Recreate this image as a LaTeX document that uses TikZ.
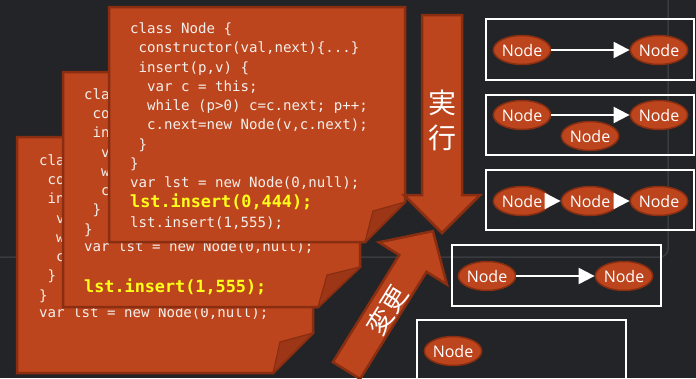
\documentclass[tikz,border=0pt]{standalone}
\usepackage{fontspec}
\setmonofont{DejaVu Sans Mono}
\newfontfamily\labelfont{Open Sans}
\newfontfamily\cjkfont{Noto Sans CJK JP}
\usetikzlibrary{arrows.meta,shapes.geometric}

\definecolor{board}{HTML}{232427}
\definecolor{frameline}{HTML}{3A3B3E}
\definecolor{cardfill}{HTML}{BD451D}
\definecolor{cardedge}{HTML}{8A2E12}
\definecolor{flapfill}{HTML}{9C3616}
\definecolor{codetext}{HTML}{F4F0EC}
\definecolor{hlyellow}{HTML}{FFFF1A}

\begin{document}
\begin{tikzpicture}[x=1pt,y=-1pt,
  card/.style={fill=cardfill, draw=cardedge, line width=2.5pt, line join=miter},
  flap/.style={fill=flapfill, draw=cardedge, line width=1.2pt, line join=miter},
  code/.style={anchor=base west, inner sep=0pt, text=codetext,
    font=\ttfamily\fontsize{14.1}{17}\selectfont},
  hl/.style={code, text=hlyellow, font=\ttfamily\bfseries\fontsize{16.8}{20}\selectfont},
  listbox/.style={draw=white, line width=2pt},
  lnode/.style={ellipse, fill=cardfill, draw=cardedge, line width=1.5pt,
    minimum width=56pt, minimum height=29pt, inner sep=0pt, text=white,
    font=\labelfont\fontsize{16}{16}\selectfont},
  link/.style={draw=white, line width=2pt, -{Triangle[length=16pt,width=16pt]}},
  bigarrow/.style={fill=cardfill, draw=cardedge, line width=2.5pt, line join=miter},
  arrowtext/.style={text=white, inner sep=0pt, align=center}]

% board
\useasboundingbox (0,0) rectangle (696,378);
\fill[board] (0,0) rectangle (696,378);
\draw[frameline, line width=1.5pt, rounded corners=8pt] (-10,257) -- (668,257) -- (668,-10);

% linked-list states
\draw[listbox] (486,19) rectangle (694,80);
\draw[listbox] (486,95) rectangle (694,155);
\draw[listbox] (486,170) rectangle (694,230);
\draw[listbox] (452,245) rectangle (661,306);
\draw[listbox] (417,320) rectangle (626,390);

\node[lnode] (n11) at (522,50) {Node};
\node[lnode] (n12) at (659,50) {Node};
\draw[link] (n11) -- (n12);

\node[lnode] (n21) at (522,115) {Node};
\node[lnode] (n22) at (659,115) {Node};
\node[lnode] (n23) at (590,136) {Node};
\draw[link] (n21) -- (n22);

\node[lnode] (n31) at (522,201) {Node};
\node[lnode] (n32) at (590,201) {Node};
\node[lnode] (n33) at (659,201) {Node};
\draw[link] (n31) -- (n32);
\draw[link] (n32) -- (n33);

\node[lnode] (n41) at (487,276) {Node};
\node[lnode] (n42) at (624,276) {Node};
\draw[link] (n41) -- (n42);

\node[lnode] (n51) at (453,351) {Node};

% back code card (mostly covered by the cards in front)
\draw[card] (17,137) -- (313,137) -- (313,333) -- (273,373) -- (17,373) -- cycle;
\draw[flap] (273,373) -- (280,342) -- (313,333) -- cycle;
\node[code] (b1) at (39,165)   {cla};
\node[code] (b2) at (47.5,184) {co};
\node[code] (b3) at (47.5,203) {in};
\node[code] (b4) at (56,223)   {v};
\node[code] (b5) at (56,242)   {w};
\node[code] (b6) at (56,261)   {c};
\node[code] (b7) at (47.5,280) {\}};
\node[code] (b8) at (39,300)   {\}};
\node[code] (b9) at (39,317)   {var lst = new Node(0,null);};

% middle code card
\draw[card] (63,72) -- (360,72) -- (360,267) -- (318,307) -- (63,307) -- cycle;
\draw[flap] (318,307) -- (327,275) -- (360,267) -- cycle;
\node[code] (m1) at (84,99)    {cla};
\node[code] (m2) at (92.5,118) {co};
\node[code] (m3) at (92.5,137) {in};
\node[code] (m4) at (101,157)  {v};
\node[code] (m5) at (101,176)  {w};
\node[code] (m6) at (101,195)  {c};
\node[code] (m7) at (92.5,214) {\}};
\node[code] (m8) at (84,234)   {\}};
\node[code] (m9) at (84,251.5) {var lst = new Node(0,null);};
\node[hl]   (m10) at (84,292)  {lst.insert(1,555);};

% front code card
\draw[card] (109,7) -- (405,7) -- (405,202) -- (365,242) -- (109,242) -- cycle;
\draw[flap] (365,242) -- (373,211) -- (405,202) -- cycle;
\node[code] (f1) at (130,33)    {class Node \{};
\node[code] (f2) at (138.5,52)  {constructor(val,next)\{...\}};
\node[code] (f3) at (138.5,72)  {insert(p,v) \{};
\node[code] (f4) at (147,91)    {var c = this;};
\node[code] (f5) at (147,110)   {while (p>0) c=c.next; p++;};
\node[code] (f6) at (147,129)   {c.next=new Node(v,c.next);};
\node[code] (f7) at (138.5,149) {\}};
\node[code] (f8) at (130,168)   {\}};
\node[code] (f9) at (130,187)   {var lst = new Node(0,null);};
\node[hl]   (f10) at (130,207)  {lst.insert(0,444);};
\node[code] (f11) at (130,227)  {lst.insert(1,555);};

% execution arrow (downwards)
\draw[bigarrow] (422,15) -- (462,15) -- (462,195) -- (480,195) -- (442,233)
  -- (404,195) -- (422,195) -- cycle;
\node[arrowtext, font=\cjkfont\fontsize{28}{35}\selectfont] (exec) at (442,120) {実\\行};

% modification arrow (diagonal)
\draw[bigarrow] (332.9,362.1) -- (399.3,255.0) -- (378.9,242.3) -- (432.9,231.1)
  -- (446.9,284.5) -- (426.5,271.8) -- (360.1,378.9) -- cycle;
\node[arrowtext, rotate=58, font=\cjkfont\fontsize{26}{26}\selectfont] (change) at (387,310) {変更};

\end{tikzpicture}
\end{document}
